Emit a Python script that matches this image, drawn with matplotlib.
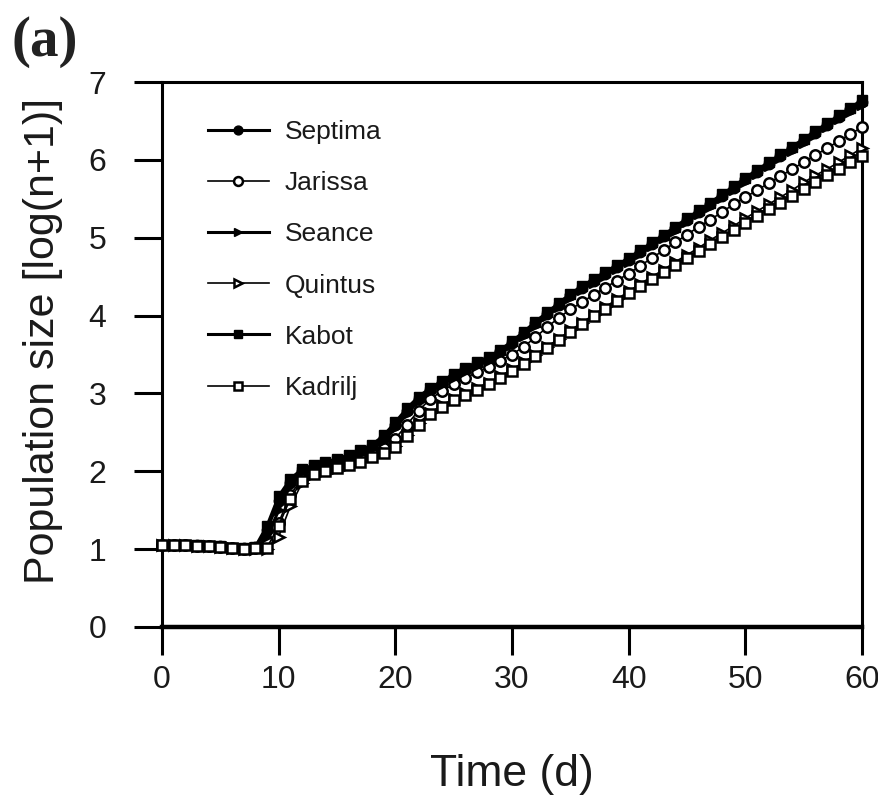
import matplotlib
matplotlib.use("Agg")
import matplotlib.pyplot as plt
import numpy as np

plt.rcParams['font.family'] = ['Liberation Sans', 'DejaVu Sans']

days = list(range(0, 61))

septima = [1.05, 1.05, 1.05, 1.05, 1.04, 1.04, 1.02, 1.01, 1.03, 1.25, 1.62,
           1.85, 2.01, 2.06, 2.10, 2.14, 2.19, 2.25, 2.32, 2.43, 2.60,
           2.78, 2.93, 3.05, 3.14, 3.23, 3.31, 3.38, 3.45, 3.54, 3.65,
           3.77, 3.90, 4.02, 4.14, 4.26, 4.36, 4.45, 4.54, 4.63, 4.72,
           4.82, 4.92, 5.02, 5.12, 5.23, 5.33, 5.43, 5.54, 5.64, 5.75,
           5.85, 5.95, 6.05, 6.15, 6.25, 6.35, 6.45, 6.55, 6.65, 6.74]

seance = [1.05, 1.05, 1.05, 1.05, 1.04, 1.04, 1.02, 1.01, 1.02, 1.15, 1.50,
          1.82, 1.99, 2.05, 2.09, 2.13, 2.17, 2.22, 2.29, 2.39, 2.55,
          2.74, 2.90, 3.02, 3.11, 3.20, 3.28, 3.35, 3.42, 3.51, 3.62,
          3.74, 3.87, 3.99, 4.11, 4.23, 4.33, 4.42, 4.51, 4.60, 4.69,
          4.79, 4.89, 4.99, 5.09, 5.20, 5.30, 5.40, 5.51, 5.61, 5.72,
          5.82, 5.92, 6.02, 6.12, 6.22, 6.32, 6.42, 6.52, 6.62, 6.71]

kabot = [1.05, 1.05, 1.05, 1.05, 1.04, 1.04, 1.02, 1.01, 1.03, 1.30, 1.68,
         1.90, 2.03, 2.08, 2.12, 2.16, 2.21, 2.27, 2.34, 2.46, 2.63,
         2.81, 2.96, 3.07, 3.16, 3.25, 3.33, 3.40, 3.47, 3.56, 3.67,
         3.79, 3.92, 4.04, 4.16, 4.28, 4.38, 4.47, 4.56, 4.65, 4.74,
         4.84, 4.94, 5.04, 5.14, 5.25, 5.35, 5.45, 5.56, 5.66, 5.77,
         5.87, 5.97, 6.07, 6.17, 6.27, 6.37, 6.47, 6.57, 6.67, 6.77]

jarissa = [1.05, 1.05, 1.05, 1.04, 1.04, 1.03, 1.01, 1.00, 1.01, 1.10, 1.34,
           1.70, 1.90, 2.00, 2.05, 2.09, 2.13, 2.18, 2.23, 2.30, 2.42,
           2.60, 2.78, 2.93, 3.03, 3.12, 3.20, 3.27, 3.34, 3.42, 3.50,
           3.60, 3.72, 3.85, 3.97, 4.08, 4.17, 4.27, 4.36, 4.45, 4.54,
           4.64, 4.74, 4.84, 4.94, 5.04, 5.14, 5.23, 5.33, 5.43, 5.52,
           5.61, 5.70, 5.79, 5.88, 5.97, 6.06, 6.15, 6.24, 6.33, 6.42]

quintus = [1.05, 1.05, 1.05, 1.04, 1.04, 1.03, 1.01, 1.00, 1.00, 1.00, 1.16,
           1.55, 1.85, 1.96, 2.01, 2.04, 2.08, 2.13, 2.19, 2.25, 2.33,
           2.47, 2.62, 2.75, 2.85, 2.93, 3.00, 3.07, 3.14, 3.22, 3.31,
           3.40, 3.50, 3.60, 3.70, 3.81, 3.91, 4.01, 4.11, 4.21, 4.31,
           4.41, 4.50, 4.59, 4.69, 4.78, 4.87, 4.97, 5.06, 5.15, 5.25,
           5.34, 5.43, 5.52, 5.61, 5.71, 5.80, 5.88, 5.97, 6.06, 6.15]

kadrilj = [1.05, 1.05, 1.05, 1.04, 1.04, 1.03, 1.01, 1.00, 1.01, 1.02, 1.30,
           1.65, 1.88, 1.97, 2.01, 2.04, 2.08, 2.12, 2.18, 2.24, 2.31,
           2.45, 2.60, 2.73, 2.83, 2.91, 2.98, 3.05, 3.12, 3.20, 3.29,
           3.38, 3.48, 3.58, 3.68, 3.79, 3.89, 3.99, 4.09, 4.19, 4.29,
           4.38, 4.47, 4.56, 4.65, 4.74, 4.83, 4.92, 5.01, 5.10, 5.19,
           5.28, 5.37, 5.45, 5.54, 5.63, 5.71, 5.80, 5.88, 5.97, 6.05]

labels = ['Septima', 'Jarissa', 'Seance', 'Quintus', 'Kabot', 'Kadrilj']
series = [septima, jarissa, seance, quintus, kabot, kadrilj]
markers = ['o', 'o', '>', '>', 's', 's']
filled = [True, False, True, False, True, False]

x_ticks = [0, 10, 20, 30, 40, 50, 60]
y_ticks = [0, 1, 2, 3, 4, 5, 6, 7]

fig = plt.figure(figsize=(8.79, 8.01), dpi=100)
ax = fig.add_axes([162/879, 1 - 627/801, 700/879, 545/801])

for lab, ys, mk, fl in zip(labels, series, markers, filled):
    if fl:
        ax.plot(days, ys, color='black', lw=2.2, marker=mk, ms=7.5,
                mfc='black', mec='black', mew=1.0, label=lab, zorder=3,
                clip_on=False)
    else:
        ax.plot(days, ys, color='black', lw=1.2, marker=mk, ms=7.5,
                mfc='white', mec='black', mew=1.8, label=lab, zorder=3,
                clip_on=False)

ax.set_xlim(0, 60)
ax.set_ylim(0, 7)
ax.set_xticks(x_ticks)
ax.set_yticks(y_ticks)
ax.tick_params(axis='both', direction='out', length=20, width=2.2,
               labelsize=23, color='black', labelcolor='#1a1a1a')
ax.tick_params(axis='x', pad=7)
ax.tick_params(axis='y', pad=20)
for s in ['left', 'right', 'top']:
    ax.spines[s].set_linewidth(2.2)
ax.spines['bottom'].set_linewidth(3.2)

ax.set_xlabel('Time (d)', fontsize=32, labelpad=43, color='#1a1a1a')
ax.set_ylabel('Population size [log(n+1)]', fontsize=31, color='#1a1a1a')
ax.yaxis.set_label_coords(-0.142, 0.525)

leg = ax.legend(loc='upper left', bbox_to_anchor=(208/879, 1 - 120/801),
                bbox_transform=fig.transFigure, frameon=False, fontsize=19,
                handlelength=2.3, handletextpad=0.6, labelspacing=1.03,
                borderpad=0, borderaxespad=0, markerscale=0.85)
for t in leg.get_texts():
    t.set_color('#1a1a1a')

fig.text(12/879, 1 - 42/801, '(a)', fontsize=41, fontweight='bold',
         family='Liberation Serif', va='center', ha='left', color='#222222')

fig.savefig('out.png', dpi=100)
